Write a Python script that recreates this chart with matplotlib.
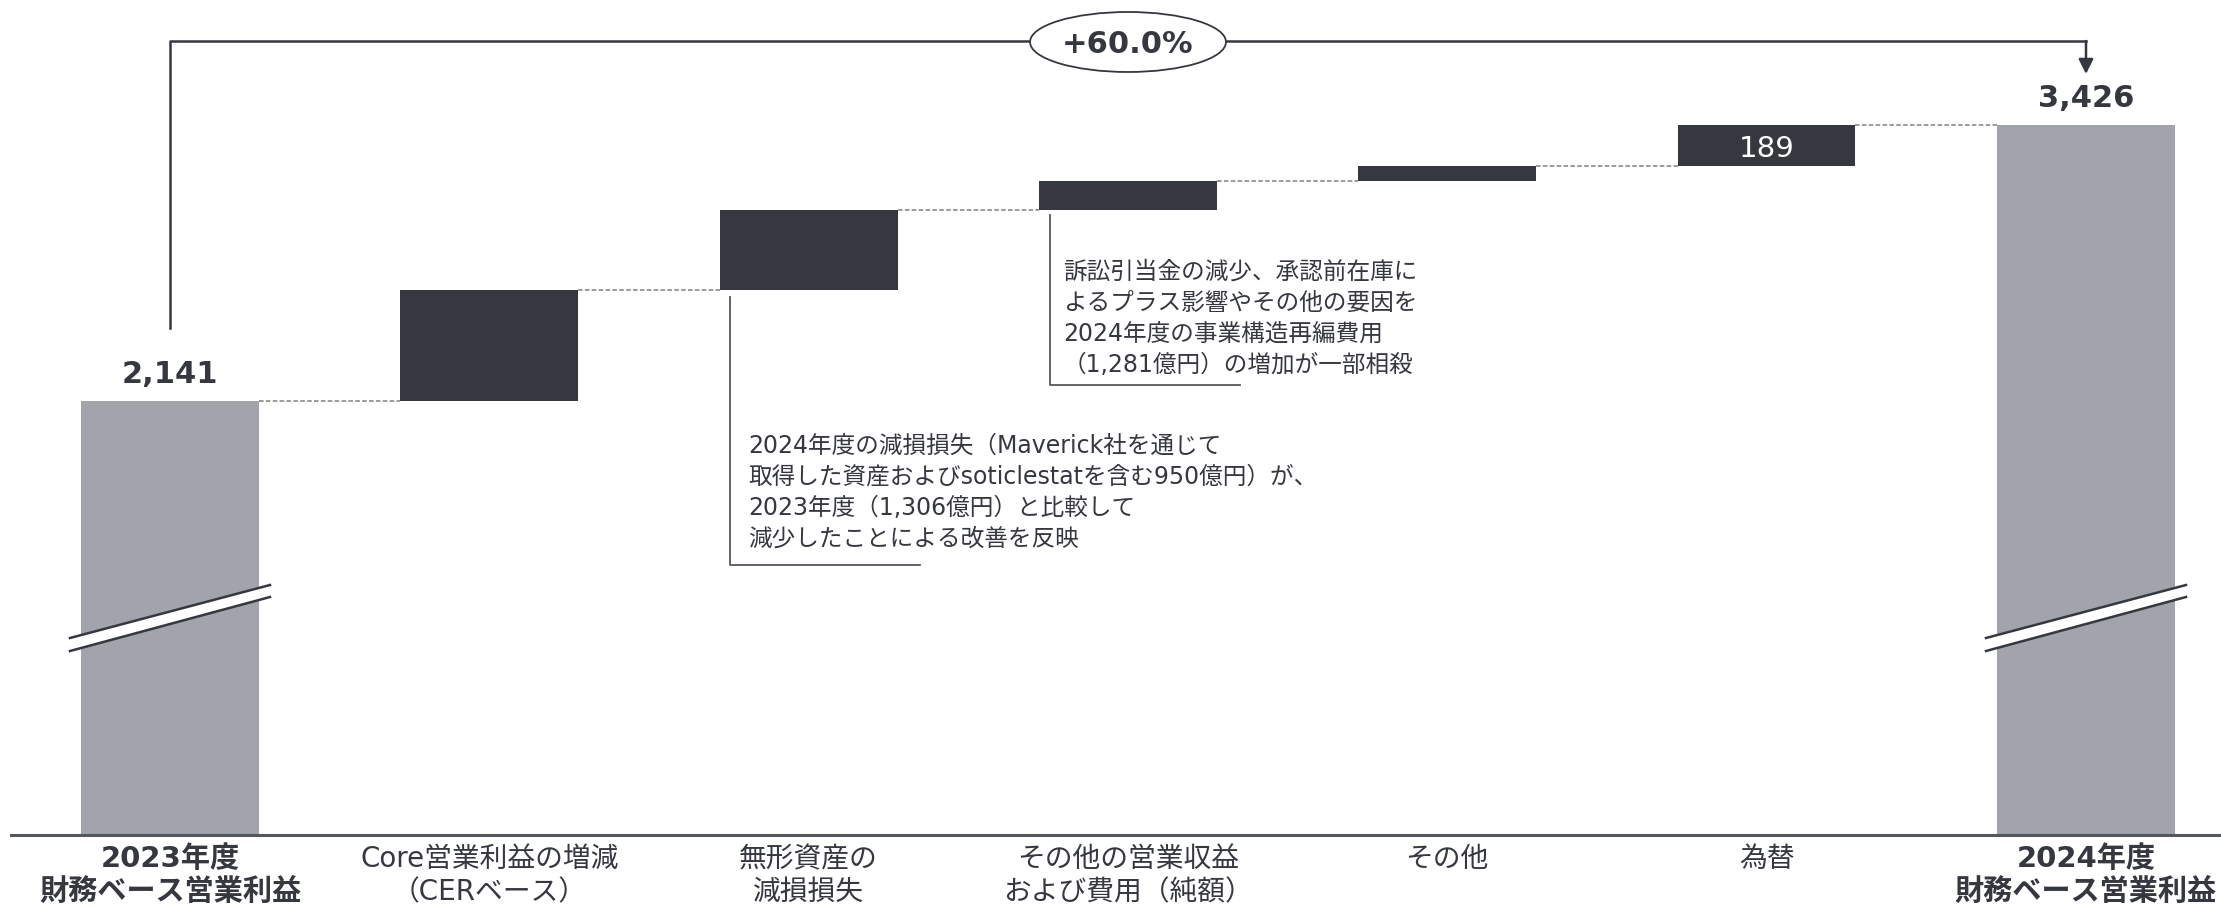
import matplotlib
matplotlib.use('Agg')
import matplotlib.pyplot as plt
from matplotlib.patches import Ellipse, Polygon

# data (億円)
categories = ['2023年度\n財務ベース営業利益', 'Core営業利益の増減\n（CERベース）', '無形資産の\n減損損失',
              'その他の営業収益\nおよび費用（純額）', 'その他', '為替', '2024年度\n財務ベース営業利益']
start_value = 2141
deltas = [518, 373, 135, 70, 189]
end_value = 3426
delta_labels = ['', '', '', '', '189']
growth_label = '+60.0%'

note_impairment = ['2024年度の減損損失（Maverick社を通じて',
                   '取得した資産およびsoticlestatを含む950億円）が、',
                   '2023年度（1,306億円）と比較して',
                   '減少したことによる改善を反映']
note_other = ['訴訟引当金の減少、承認前在庫に',
              'よるプラス影響やその他の要因を',
              '2024年度の事業構造再編費用',
              '（1,281億円）の増加が一部相殺']

DARK = '#363840'
GRAY = '#a2a4ac'
TEXT = '#363840'
W, H = 2221, 907

plt.rcParams['font.family'] = ['DejaVu Sans', 'Noto Sans CJK JP']

fig = plt.figure(figsize=(W / 100, H / 100), dpi=100)
ax = fig.add_axes([0, (H - 835) / H, 1, 835 / H])
ax.set_xlim(-0.5324, 6.4234)
ax.set_ylim(120, 4008)
ax.axis('off')


def px(x, y):
    # pixel position (from top-left) -> data coords
    return ax.transData.inverted().transform((x, H - y))


width = 0.557
levels = [start_value]
for d in deltas:
    levels.append(levels[-1] + d)

ax.bar(0, start_value, width, color=GRAY)
ax.bar(range(1, 6), deltas, width, bottom=levels[:-1], color=DARK)
ax.bar(6, end_value, width, color=GRAY)

# dashed connectors
for i in range(6):
    ax.plot([i + width / 2, i + 1 - width / 2], [levels[i], levels[i]],
            color='#808080', lw=1.1, ls=(0, (3, 1.5)))

# baseline
ax.axhline(ax.get_ylim()[0], xmin=11 / W, color='#55575f', lw=2.2, clip_on=False)

# value labels
for i, v in [(0, start_value), (6, end_value)]:
    ax.annotate(f'{v:,}', (i, v), xytext=(0, 13), textcoords='offset points',
                ha='center', va='baseline', fontsize=22, fontweight='bold', color=TEXT)
for i, lab in enumerate(delta_labels):
    if lab:
        ax.annotate(lab, (i + 1, levels[i] + deltas[i] / 2), xytext=(0, -8.3),
                    textcoords='offset points', ha='center', va='baseline',
                    fontsize=21, color='white')

# category labels
for i, lab in enumerate(categories):
    bold = i in (0, 6)
    for j, line in enumerate(lab.split('\n')):
        ax.text(i, px(0, [859, 892][j])[1], line, ha='center', va='center',
                fontsize=21 if bold else 20, fontweight='bold' if bold else 'normal',
                color=TEXT, clip_on=False)

# axis break marks on the total bars
for cx in (170, 2086):
    up = [px(cx - 100, 638), px(cx + 100, 585)]
    lo = [px(cx - 100, 651), px(cx + 100, 597)]
    ax.add_patch(Polygon([up[0], up[1], lo[1], lo[0]], closed=True,
                         facecolor='white', edgecolor='none', zorder=3))
    for seg in (up, lo):
        ax.plot([seg[0][0], seg[1][0]], [seg[0][1], seg[1][1]], color=DARK, lw=1.8, zorder=4)

# growth bracket
p0, p1, p2 = px(170, 328), px(170, 41), px(2086, 41)
ax.plot([p0[0], p1[0], p2[0]], [p0[1], p1[1], p2[1]], color=DARK, lw=1.8)
tip = px(2086, 74)
ax.annotate('', xy=tip, xytext=p2,
            arrowprops=dict(arrowstyle='-|>', color=DARK, lw=1.8, mutation_scale=22,
                            shrinkA=0, shrinkB=0))
c = px(1128, 42)
e0 = px(1128 - 98, 42 + 30)
ax.add_patch(Ellipse(c, 2 * (c[0] - e0[0]), 2 * (c[1] - e0[1]), facecolor='white',
                     edgecolor=DARK, lw=1.3, zorder=5))
ax.annotate(growth_label, c, xytext=(0, -8), textcoords='offset points', ha='center',
            va='baseline', fontsize=22, fontweight='bold', color=TEXT, zorder=6)

# notes
for lx, ytop, ybot, xend, tx, ty, lines in [(730, 297, 565, 920, 748, 446, note_impairment),
                                           (1050, 215, 385, 1240, 1063, 272, note_other)]:
    a, b, cc = px(lx, ytop), px(lx, ybot), px(xend, ybot)
    ax.plot([a[0], b[0], cc[0]], [a[1], b[1], cc[1]], color='#55575f', lw=1.3)
    for k, line in enumerate(lines):
        pos = px(tx, ty + 31 * k)
        ax.text(pos[0], pos[1], line, ha='left', va='center', fontsize=17, color=TEXT)

fig.savefig('out.png', dpi=100)
